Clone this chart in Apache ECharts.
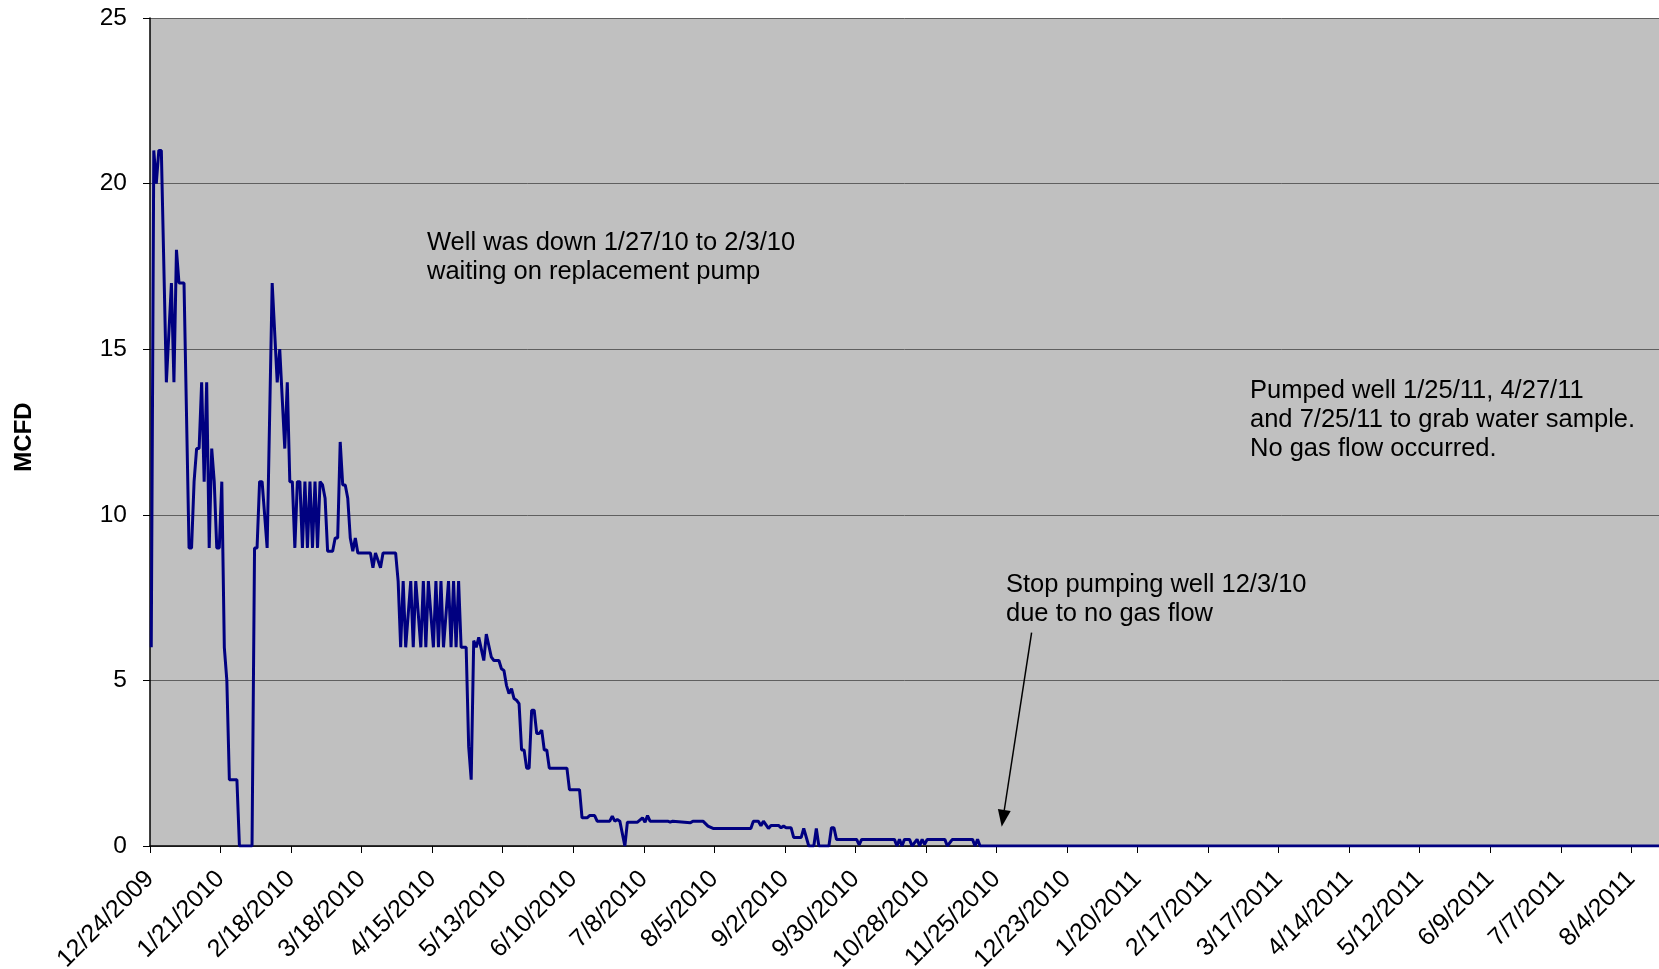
<!DOCTYPE html>
<html><head><meta charset="utf-8">
<script src="https://cdn.jsdelivr.net/npm/echarts@6/dist/echarts.min.js"></script>
<style>html,body{margin:0;padding:0;background:#fff}#c{width:1659px;height:969px}</style>
</head><body><div id="c"></div>
<script>
// x values: days since 12/24/2009
const days = [0,1,2,3,4,6,8,9,10,11,13,15,16,17,18,19,20,21,22,23,24,25,26,27,28,29,30,31,34,35,40,41,42,43,44,46,48,50,51,53,54,55,56,
57,58,59,60,61,62,63,64,65,66,67,68,69,70,72,73,74,75,76,77,78,79,80,81,82,87,88,89,91,92,97,98,
99,100,101,103,104,105,107,108,109,110,112,113,114,115,116,118,119,120,121,122,123,125,126,127,
128,129,130,132,133,135,136,138,139,140,141,142,143,144,145,146,147,148,149,150,151,152,153,154,155,156,157,158,165,166,170,
171,173,174,176,177,182,183,184,185,186,188,189,193,195,196,197,198,205,206,207,214,215,219,221,223,238,
239,241,242,243,245,246,249,250,251,252,254,255,258,259,261,263,264,265,269,270,271,272,280,281,282,
295,296,297,298,299,301,302,304,305,306,307,308,315,316,318,326,327,328,329,599];
const mcfd = [6,21,20,21,21,14,17,14,18,17,17,9,9,11,12,12,14,11,14,9,12,11,9,9,11,6,5,2,2,0,0,9,9,11,11,9,17,14,15,12,14,11,11,
9,11,11,9,11,9,11,9,11,9,11,10.9,10.5,8.9,8.9,9.3,9.3,12.2,10.9,10.9,10.5,9.3,8.9,9.3,8.85,8.85,8.4,8.85,8.4,8.85,8.85,8,
6,8,6,8,6,8,6,8,6,8,6,8,6,8,6,8,6,8,6,8,6,6,3,2,
6.2,6.0,6.3,5.6,6.4,5.7,5.6,5.6,5.35,5.3,4.85,4.6,4.75,4.45,4.4,4.3,2.9,2.9,2.35,2.35,4.1,4.1,3.4,3.4,3.5,2.9,2.9,2.35,2.35,1.7,1.7,
0.85,0.85,0.92,0.92,0.75,0.75,0.9,0.75,0.8,0.75,0,0.72,0.72,0.85,0.72,0.92,0.75,0.75,0.72,0.75,0.7,0.75,0.75,0.6,0.53,0.53,
0.75,0.75,0.61,0.75,0.53,0.62,0.62,0.55,0.6,0.55,0.55,0.26,0.26,0.53,0,0,0.53,0,0,0.55,0.55,0.2,0.2,0.03,0.2,
0.2,0,0.2,0,0.2,0.2,0,0.2,0,0.2,0.05,0.2,0.2,0,0.2,0.2,0,0.2,0,0];
const tickLabels = ['12/24/2009','1/21/2010','2/18/2010','3/18/2010','4/15/2010','5/13/2010','6/10/2010','7/8/2010','8/5/2010','9/2/2010','9/30/2010','10/28/2010','11/25/2010','12/23/2010','1/20/2011','2/17/2011','3/17/2011','4/14/2011','5/12/2011','6/9/2011','7/7/2011','8/4/2011'];
const yAxisTitle = 'MCFD';
const note1 = 'Well was down 1/27/10 to 2/3/10\nwaiting on replacement pump';
const note2 = 'Pumped well 1/25/11, 4/27/11\nand 7/25/11 to grab water sample.\nNo gas flow occurred.';
const note3 = 'Stop pumping well 12/3/10\ndue to no gas flow';

const FONT = '"Liberation Sans", Arial, sans-serif';
const DAY_CENTER = 0.5; // points sit in the middle of each day slot
const chart = echarts.init(document.getElementById('c'), null, {renderer: 'canvas'});
const noteStyle = (t) => ({text: t, fontSize: 25.5, fontFamily: FONT, fill: '#000', lineHeight: 29});
chart.setOption({
  animation: false,
  backgroundColor: '#fff',
  grid: {left: 150, right: 0, top: 18, bottom: 123, show: true, backgroundColor: '#C0C0C0', borderWidth: 0, containLabel: false, outerBoundsMode: 'none'},
  xAxis: {
    type: 'value', min: 0, max: 599, interval: 28,
    axisLine: {show: true, onZero: false, lineStyle: {color: '#000', width: 1.5}},
    axisTick: {show: true, length: 7, lineStyle: {color: '#000', width: 1}},
    splitLine: {show: false},
    axisLabel: {
      rotate: 45, margin: 29, fontSize: 25, fontFamily: FONT, color: '#000',
      showMinLabel: true, showMaxLabel: true,
      formatter: (v) => (v % 28 === 0 && tickLabels[v / 28] !== undefined) ? tickLabels[v / 28] : ''
    }
  },
  yAxis: {
    type: 'value', min: 0, max: 25, interval: 5,
    axisLine: {show: true, lineStyle: {color: '#000', width: 1.5}},
    axisTick: {show: true, length: 7, lineStyle: {color: '#000', width: 1}},
    splitLine: {show: true, lineStyle: {color: '#5f5f5f', width: 1}},
    axisLabel: {margin: 23, fontSize: 24.5, fontFamily: FONT, color: '#000'}
  },
  series: [{
    type: 'line', data: days.map((d, i) => [d + DAY_CENTER, mcfd[i]]), showSymbol: false, symbol: 'none',
    lineStyle: {color: '#000080', width: 3}, itemStyle: {color: '#000080'}, z: 5
  }],
  graphic: [
    {type: 'text', x: 24.5, y: 437, rotation: Math.PI / 2,
     style: {text: yAxisTitle, fontSize: 24, fontWeight: 'bold', fontFamily: FONT, fill: '#000', align: 'center', verticalAlign: 'middle'}},
    {type: 'text', left: 427, top: 228, style: noteStyle(note1), z: 10},
    {type: 'text', left: 1250, top: 376, style: noteStyle(note2), z: 10},
    {type: 'text', left: 1006, top: 570, style: noteStyle(note3), z: 10},
    {type: 'line', shape: {x1: 1031.6, y1: 632.7, x2: 1004.3, y2: 810}, style: {stroke: '#000', lineWidth: 1.5}, z: 10},
    {type: 'polygon', shape: {points: [[1001.7, 826.7], [1010.7, 810.9], [997.9, 808.9]]}, style: {fill: '#000'}, z: 10}
  ]
});
</script></body></html>
